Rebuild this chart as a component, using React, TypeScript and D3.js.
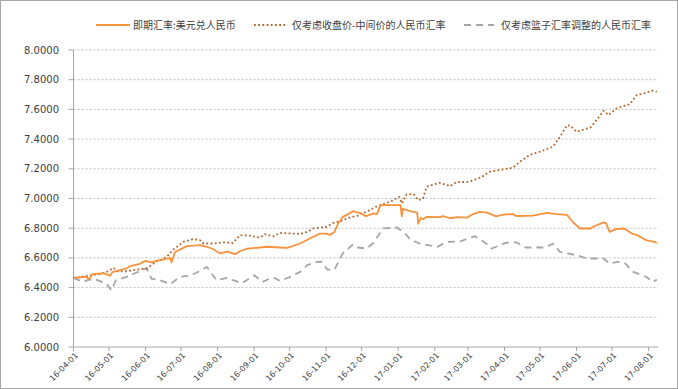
import React from 'react';
import * as d3 from 'd3';

type Pt = [string, number];

const seriesNames = ['即期汇率:美元兑人民币', '仅考虑收盘价-中间价的人民币汇率', '仅考虑篮子汇率调整的人民币汇率'];

const spotRate: Pt[] = [
  ['2016-04-01', 6.465], ['2016-04-12', 6.472], ['2016-04-14', 6.455], ['2016-04-17', 6.49],
  ['2016-04-26', 6.497], ['2016-05-02', 6.48], ['2016-05-04', 6.505], ['2016-05-16', 6.53],
  ['2016-05-19', 6.544], ['2016-05-27', 6.56], ['2016-06-01', 6.58], ['2016-06-06', 6.57],
  ['2016-06-10', 6.58], ['2016-06-19', 6.593], ['2016-06-22', 6.6], ['2016-06-23', 6.571],
  ['2016-06-26', 6.64], ['2016-07-06', 6.679], ['2016-07-17', 6.686], ['2016-07-23', 6.675],
  ['2016-07-28', 6.66], ['2016-08-03', 6.63], ['2016-08-09', 6.642], ['2016-08-16', 6.625],
  ['2016-08-20', 6.645], ['2016-08-26', 6.663], ['2016-09-06', 6.67], ['2016-09-12', 6.675],
  ['2016-09-23', 6.67], ['2016-09-29', 6.668], ['2016-10-10', 6.697], ['2016-10-21', 6.742],
  ['2016-10-27', 6.764], ['2016-11-01', 6.764], ['2016-11-04', 6.755], ['2016-11-08', 6.775],
  ['2016-11-11', 6.83], ['2016-11-15', 6.876], ['2016-11-18', 6.888], ['2016-11-24', 6.915],
  ['2016-11-30', 6.9], ['2016-12-05', 6.881], ['2016-12-11', 6.9], ['2016-12-14', 6.895],
  ['2016-12-17', 6.955], ['2016-12-25', 6.955], ['2017-01-03', 6.955], ['2017-01-04', 6.88],
  ['2017-01-05', 6.93], ['2017-01-11', 6.915], ['2017-01-17', 6.905], ['2017-01-18', 6.83],
  ['2017-01-20', 6.87], ['2017-01-22', 6.86], ['2017-01-25', 6.876], ['2017-02-05', 6.874],
  ['2017-02-08', 6.882], ['2017-02-14', 6.867], ['2017-02-20', 6.874], ['2017-02-28', 6.871],
  ['2017-03-06', 6.897], ['2017-03-11', 6.91], ['2017-03-17', 6.905], ['2017-03-25', 6.88],
  ['2017-03-31', 6.892], ['2017-04-08', 6.895], ['2017-04-11', 6.882], ['2017-04-25', 6.885],
  ['2017-05-07', 6.903], ['2017-05-15', 6.895], ['2017-05-24', 6.89], ['2017-05-29', 6.84],
  ['2017-06-04', 6.798], ['2017-06-13', 6.798], ['2017-06-15', 6.81], ['2017-06-24', 6.839],
  ['2017-06-26', 6.835], ['2017-06-29', 6.775], ['2017-07-05', 6.795], ['2017-07-11', 6.798],
  ['2017-07-18', 6.764], ['2017-07-22', 6.755], ['2017-07-30', 6.719], ['2017-08-06', 6.708],
  ['2017-08-08', 6.7],
];

const closeMidRate: Pt[] = [
  ['2016-04-01', 6.465], ['2016-04-18', 6.485], ['2016-04-23', 6.49], ['2016-04-29', 6.505],
  ['2016-05-05', 6.533], ['2016-05-08', 6.51], ['2016-05-16', 6.51], ['2016-05-24', 6.52],
  ['2016-06-02', 6.53], ['2016-06-10', 6.573], ['2016-06-19', 6.607], ['2016-06-24', 6.652],
  ['2016-07-03', 6.708], ['2016-07-11', 6.726], ['2016-07-17', 6.72], ['2016-07-20', 6.697],
  ['2016-07-29', 6.697], ['2016-08-06', 6.705], ['2016-08-14', 6.7], ['2016-08-20', 6.753],
  ['2016-08-28', 6.75], ['2016-09-06', 6.737], ['2016-09-10', 6.76], ['2016-09-17', 6.745],
  ['2016-09-23', 6.768], ['2016-10-01', 6.765], ['2016-10-10', 6.762], ['2016-10-16', 6.775],
  ['2016-10-21', 6.798], ['2016-11-01', 6.809], ['2016-11-07', 6.836], ['2016-11-14', 6.85],
  ['2016-11-21', 6.872], ['2016-11-28', 6.885], ['2016-11-30', 6.899], ['2016-12-05', 6.91],
  ['2016-12-13', 6.944], ['2016-12-25', 6.978], ['2017-01-02', 7.011], ['2017-01-04', 6.967],
  ['2017-01-08', 7.027], ['2017-01-14', 7.03], ['2017-01-18', 6.989], ['2017-01-22', 7.0],
  ['2017-01-25', 7.079], ['2017-02-05', 7.106], ['2017-02-14', 7.083], ['2017-02-19', 7.11],
  ['2017-03-02', 7.112], ['2017-03-13', 7.146], ['2017-03-19', 7.18], ['2017-03-31', 7.196],
  ['2017-04-08', 7.207], ['2017-04-14', 7.247], ['2017-04-22', 7.292], ['2017-05-01', 7.315],
  ['2017-05-12', 7.348], ['2017-05-18', 7.416], ['2017-05-24', 7.494], ['2017-05-27', 7.49],
  ['2017-06-01', 7.449], ['2017-06-13', 7.479], ['2017-06-18', 7.53], ['2017-06-24', 7.591],
  ['2017-06-28', 7.562], ['2017-07-05', 7.607], ['2017-07-16', 7.634], ['2017-07-22', 7.697],
  ['2017-07-29', 7.71], ['2017-08-04', 7.726], ['2017-08-08', 7.719],
];

const basketRate: Pt[] = [
  ['2016-04-01', 6.465], ['2016-04-09', 6.438], ['2016-04-13', 6.45], ['2016-04-18', 6.46],
  ['2016-04-23', 6.445], ['2016-04-29', 6.427], ['2016-05-03', 6.382], ['2016-05-07', 6.45],
  ['2016-05-16', 6.472], ['2016-05-24', 6.5], ['2016-06-02', 6.53], ['2016-06-06', 6.461],
  ['2016-06-13', 6.45], ['2016-06-22', 6.423], ['2016-06-30', 6.472], ['2016-07-08', 6.48],
  ['2016-07-14', 6.5], ['2016-07-23', 6.539], ['2016-07-31', 6.45], ['2016-08-09', 6.465],
  ['2016-08-14', 6.45], ['2016-08-22', 6.431], ['2016-09-01', 6.483], ['2016-09-08', 6.438],
  ['2016-09-17', 6.47], ['2016-09-23', 6.445], ['2016-10-01', 6.47], ['2016-10-10', 6.506],
  ['2016-10-16', 6.551], ['2016-10-24', 6.573], ['2016-10-28', 6.575], ['2016-11-02', 6.521],
  ['2016-11-08', 6.521], ['2016-11-15', 6.63], ['2016-11-24', 6.692], ['2016-11-28', 6.67],
  ['2016-12-05', 6.663], ['2016-12-11', 6.7], ['2016-12-19', 6.798], ['2016-12-31', 6.805],
  ['2017-01-07', 6.764], ['2017-01-11', 6.724], ['2017-01-19', 6.697], ['2017-02-03', 6.674],
  ['2017-02-11', 6.708], ['2017-02-22', 6.71], ['2017-03-07', 6.746], ['2017-03-16', 6.7],
  ['2017-03-21', 6.663], ['2017-04-02', 6.701], ['2017-04-11', 6.705], ['2017-04-19', 6.67],
  ['2017-05-06', 6.67], ['2017-05-12', 6.697], ['2017-05-18', 6.64], ['2017-06-01', 6.618],
  ['2017-06-10', 6.596], ['2017-06-24', 6.596], ['2017-06-29', 6.562], ['2017-07-06', 6.573],
  ['2017-07-12', 6.565], ['2017-07-19', 6.506], ['2017-07-30', 6.472], ['2017-08-05', 6.438],
  ['2017-08-08', 6.454],
];

const yTicks = [6.0, 6.2, 6.4, 6.6, 6.8, 7.0, 7.2, 7.4, 7.6, 7.8, 8.0];
const xTickDates = [
  '2016-04-01', '2016-05-01', '2016-06-01', '2016-07-01', '2016-08-01', '2016-09-01',
  '2016-10-01', '2016-11-01', '2016-12-01', '2017-01-01', '2017-02-01', '2017-03-01',
  '2017-04-01', '2017-05-01', '2017-06-01', '2017-07-01', '2017-08-01',
];

const W = 678;
const H = 389;
const plot = { left: 73.5, right: 658, top: 50, bottom: 347 };
const parse = d3.timeParse('%Y-%m-%d');
const fmt = d3.timeFormat('%y-%m-%d');
const numFont = 'DejaVu Sans, sans-serif';
const cjkFont = '"Noto Sans CJK SC", sans-serif';

const styles = [
  { color: '#f7923e', dash: undefined as string | undefined, width: 1.8 },
  { color: '#b5652c', dash: '1.8,2.4', width: 1.8 },
  { color: '#a6a6a6', dash: '7,5', width: 1.8 },
];

export default function App() {
  const x = d3.scaleTime()
    .domain([parse('2016-04-01')!, parse('2017-08-09')!])
    .range([plot.left, plot.right]);
  const y = d3.scaleLinear().domain([6, 8]).range([plot.bottom, plot.top]);

  const line = d3.line<Pt>()
    .x(d => x(parse(d[0])!))
    .y(d => y(d[1]));

  const all = [spotRate, closeMidRate, basketRate];

  const legend = [
    { x1: 96, x2: 130, tx: 133 },
    { x1: 254, x2: 285, tx: 292 },
    { x1: 464, x2: 494, tx: 501 },
  ];

  return (
    <div style={{ position: 'fixed', left: 0, top: 0 }}>
      <svg width={W} height={H} style={{ display: 'block', background: '#fff' }}>
        <rect x={0.5} y={0.5} width={W - 1} height={H - 1} fill="#fff" stroke="#a6a6a6" />

        {yTicks.filter(t => t > 6).map(t => (
          <line key={'g' + t} x1={plot.left} x2={plot.right} y1={y(t)} y2={y(t)}
            stroke="#bfbfbf" strokeWidth={1} strokeDasharray="2,2" />
        ))}

        <line x1={plot.left} x2={plot.left} y1={plot.top} y2={plot.bottom} stroke="#a6a6a6" />
        <line x1={plot.left} x2={plot.right} y1={plot.bottom} y2={plot.bottom} stroke="#a6a6a6" />

        {yTicks.map(t => (
          <g key={'y' + t}>
            <line x1={plot.left - 5} x2={plot.left} y1={y(t)} y2={y(t)} stroke="#a6a6a6" />
            <text x={59} y={y(t)} dy="0.35em" textAnchor="end" fontFamily={numFont}
              fontSize={10} fill="#404040">{t.toFixed(4)}</text>
          </g>
        ))}

        {xTickDates.map(s => {
          const px = x(parse(s)!);
          return (
            <g key={s}>
              <line x1={px} x2={px} y1={plot.bottom} y2={plot.bottom + 4} stroke="#a6a6a6" />
              <text transform={`translate(${px + 3},${plot.bottom + 7}) rotate(-45)`}
                textAnchor="end" dy="0.35em" fontFamily={numFont} fontSize={8}
                fill="#404040">{fmt(parse(s)!)}</text>
            </g>
          );
        })}

        {[2, 1, 0].map(i => (
          <path key={'s' + i} d={line(all[i]) || ''} fill="none" stroke={styles[i].color}
            strokeWidth={styles[i].width} strokeDasharray={styles[i].dash}
            strokeLinejoin="round" />
        ))}

        {legend.map((l, i) => (
          <g key={'l' + i}>
            <line x1={l.x1} x2={l.x2} y1={25} y2={25} stroke={styles[i].color}
              strokeWidth={2} strokeDasharray={styles[i].dash} />
            <text x={l.tx} y={25} dy="0.35em" fontFamily={cjkFont} fontSize={10}
              fill="#404040">{seriesNames[i]}</text>
          </g>
        ))}
      </svg>
    </div>
  );
}
